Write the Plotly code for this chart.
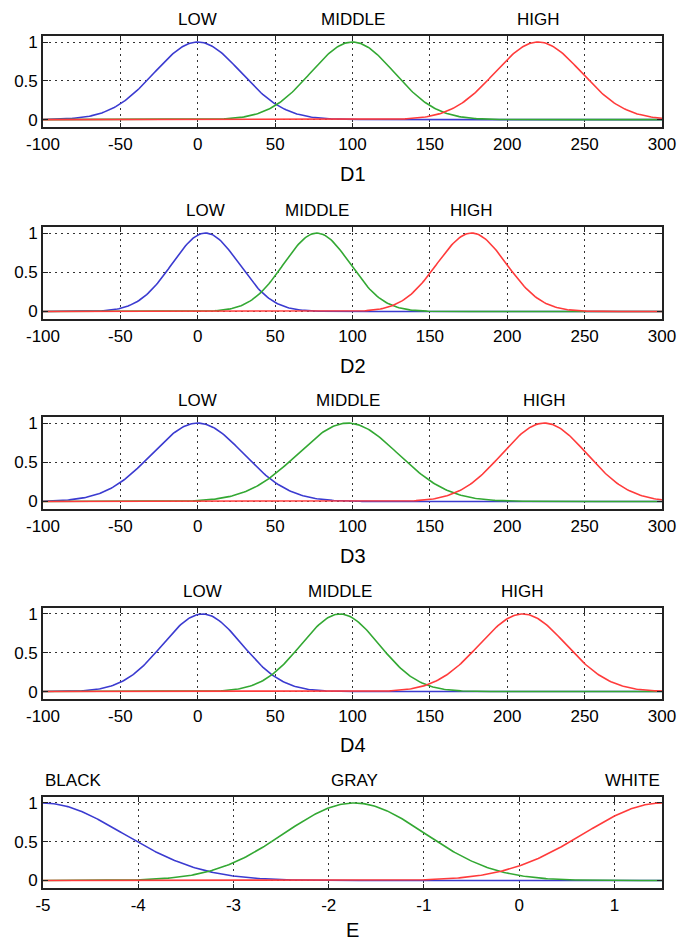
import numpy as np
import plotly.graph_objects as go

# ---- data: Gaussian membership-function parameters ----
variables = ["D1", "D2", "D3", "D4", "E"]
mf_names = [
    ["LOW", "MIDDLE", "HIGH"],
    ["LOW", "MIDDLE", "HIGH"],
    ["LOW", "MIDDLE", "HIGH"],
    ["LOW", "MIDDLE", "HIGH"],
    ["BLACK", "GRAY", "WHITE"],
]
mf_centers = [
    [0, 100, 220],
    [5, 77, 177],
    [0, 97, 224],
    [3, 92, 210],
    [-5.0, -1.73, 1.5],
]
mf_sigmas = [
    [28, 27, 28],
    [21.7, 21.5, 22.5],
    [29.7, 32.5, 27.5],
    [25.7, 25.2, 28],
    [0.84, 0.74, 0.82],
]
x_ranges = [[-100, 300]] * 4 + [[-5, 1.5]]
x_ticks = [list(range(-100, 301, 50))] * 4 + [[-5, -4, -3, -2, -1, 0, 1]]
y_ticks = [0, 0.5, 1]
y_tick_labels = ["0", "0.5", "1"]

colors = ["#3b3bd0", "#33a833", "#ff3b3b"]

W, H = 678, 947
frames_px = [(33, 125), (225, 318), (416, 509), (608, 700), (798, 890)]
xlabel_px = [172, 365, 556, 746, 932]
left_px, right_px = 43, 662

FONT = "Liberation Sans, Arial, sans-serif"

fig = go.Figure()
layout = dict(
    width=W, height=H,
    margin=dict(l=left_px, r=W - right_px, t=0, b=0),
    paper_bgcolor="white", plot_bgcolor="white",
    showlegend=False,
    font=dict(family=FONT, size=16, color="black"),
)
annotations = []

for i, var in enumerate(variables):
    ax = "" if i == 0 else str(i + 1)
    xa, ya = "x" + ax, "y" + ax
    top, bot = frames_px[i]
    lo, hi = x_ranges[i]
    xs = np.linspace(lo, hi, 401)
    for j in range(3):
        c, s = mf_centers[i][j], mf_sigmas[i][j]
        ys = np.exp(-((xs - c) ** 2) / (2 * s * s))
        fig.add_trace(go.Scatter(x=xs, y=ys, mode="lines",
                                 line=dict(color=colors[j], width=1.6),
                                 xaxis=xa, yaxis=ya, hoverinfo="skip"))
        name = mf_names[i][j]
        if i == 4 and j == 0:
            anchor = "left"
        elif i == 4 and j == 2:
            anchor = "right"
        else:
            anchor = "center"
        annotations.append(dict(x=c, y=1 + 16.5 / (bot - top), xref=xa, yref=ya + " domain",
                                text=name, showarrow=False, xanchor=anchor, yanchor="middle",
                                font=dict(family=FONT, size=17, color="black")))
    annotations.append(dict(x=0.5, y=1 - xlabel_px[i] / H, xref="paper", yref="paper",
                            text=var, showarrow=False, xanchor="center", yanchor="middle",
                            font=dict(family=FONT, size=20, color="black")))
    common = dict(showline=True, linecolor="#222222", linewidth=1.6, mirror="allticks",
                  ticks="inside", ticklen=5, tickcolor="#222222", tickwidth=1,
                  showgrid=True, gridcolor="#333333", griddash="2px,4px", gridwidth=1,
                  zeroline=False, tickfont=dict(family=FONT, size=17, color="black"))
    layout["xaxis" + ax] = dict(domain=[0, 1], range=[lo, hi], tickvals=x_ticks[i],
                                ticktext=[str(t) for t in x_ticks[i]],
                                anchor=ya, **common)
    layout["yaxis" + ax] = dict(domain=[1 - bot / H, 1 - top / H], range=[-0.1, 1.08],
                                tickvals=y_ticks, ticktext=y_tick_labels,
                                anchor=xa, **common)

layout["annotations"] = annotations
fig.update_layout(**layout)
fig.write_html("out.html", config={"displayModeBar": False},
               post_script="document.body.style.margin='0';document.body.style.overflow='hidden';")
